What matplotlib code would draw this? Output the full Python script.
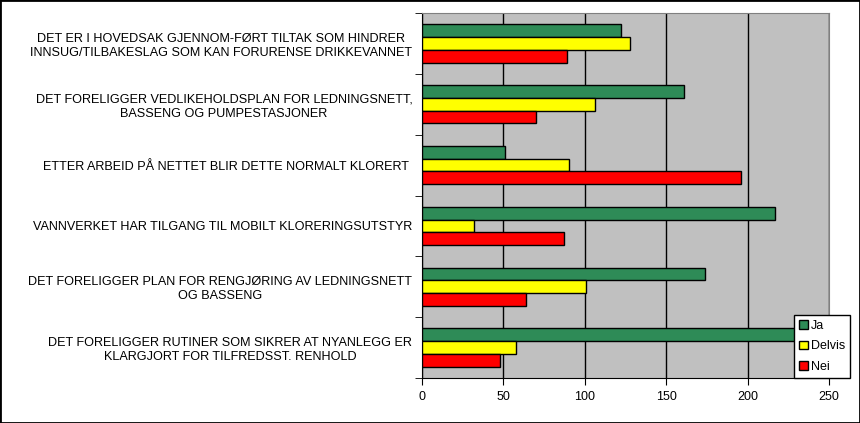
import matplotlib.pyplot as plt
import numpy as np
from matplotlib.patches import Rectangle

plt.rcParams['font.family'] = ['Liberation Sans', 'DejaVu Sans']

categories = [
    "DET ER I HOVEDSAK GJENNOM-FØRT TILTAK SOM HINDRER\nINNSUG/TILBAKESLAG SOM KAN FORURENSE DRIKKEVANNET",
    "DET FORELIGGER VEDLIKEHOLDSPLAN FOR LEDNINGSNETT,\nBASSENG OG PUMPESTASJONER",
    "ETTER ARBEID PÅ NETTET BLIR DETTE NORMALT KLORERT ",
    "VANNVERKET HAR TILGANG TIL MOBILT KLORERINGSUTSTYR",
    "DET FORELIGGER PLAN FOR RENGJØRING AV LEDNINGSNETT\nOG BASSENG",
    "DET FORELIGGER RUTINER SOM SIKRER AT NYANLEGG ER\nKLARGJORT FOR TILFREDSST. RENHOLD",
]
ja = [122, 161, 51, 217, 174, 230]
delvis = [128, 106, 90, 32, 101, 58]
nei = [89, 70, 196, 87, 64, 48]
series = [("Ja", ja, "#2E8B57"), ("Delvis", delvis, "#FFFF00"), ("Nei", nei, "#FF0000")]
xticks = [0, 50, 100, 150, 200, 250]

fig = plt.figure(figsize=(8.6, 4.23), dpi=100)
ax = fig.add_axes([422 / 860, 45 / 423, 407 / 860, 365 / 423])
ax.set_facecolor("#C0C0C0")

# grouped horizontal bars, Ja on top of each group
y = np.arange(len(categories))
h = 0.21
for i, (name, vals, col) in enumerate(series):
    ax.barh(y + (i - 1) * h, vals, height=h, color=col, edgecolor="black",
            linewidth=1, label=name, zorder=3)

ax.set_xlim(0, 250)
ax.set_ylim(len(categories) - 0.5, -0.5)
ax.set_xticks(xticks)
ax.xaxis.grid(True, color="black", linewidth=1, zorder=1)
ax.set_yticks(y)
ax.set_yticklabels(categories, multialignment="center", fontsize=9.1)
ax.tick_params(axis="y", length=0, pad=7)
# tick marks between the categories
ax.set_yticks(np.arange(len(categories) + 1) - 0.5, minor=True)
ax.tick_params(axis="y", which="minor", length=5, direction="out", color="black")
ax.tick_params(axis="x", length=5, direction="out", labelsize=9, pad=4)

for side in ["top", "right"]:
    ax.spines[side].set_color("#808080")
for side in ["left", "bottom"]:
    ax.spines[side].set_color("black")

leg = ax.legend(loc="lower right", bbox_to_anchor=(850 / 860, 45 / 423),
                bbox_transform=fig.transFigure, borderaxespad=0, fontsize=9,
                frameon=True, fancybox=False, edgecolor="black", framealpha=1,
                handlelength=0.7, handleheight=0.7, handletextpad=0.25,
                borderpad=0.4, labelspacing=0.7)
leg.get_frame().set_linewidth(1)

fig.patches.append(Rectangle((0, 0), 1, 1, transform=fig.transFigure,
                             fill=False, edgecolor="black", linewidth=2))

plt.savefig("out.png", dpi=100)
